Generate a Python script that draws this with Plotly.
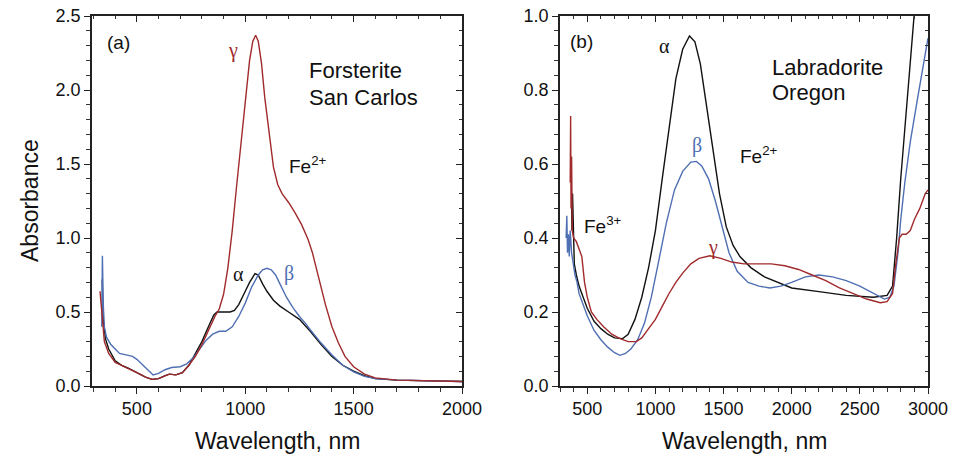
import plotly.graph_objects as go

# ---------- Panel (a): Forsterite San Carlos ----------
a_gamma_wl = [330, 340, 350, 370, 400, 430, 460, 500, 540, 570, 600, 630, 650, 680, 710, 740, 770, 800, 830, 860,
              880, 900, 920, 940, 960, 980, 1000, 1020, 1035, 1048, 1060, 1075, 1090, 1110, 1130, 1150, 1170, 1200,
              1230, 1260, 1290, 1310, 1340, 1370, 1400, 1430, 1460, 1500, 1550, 1600, 1700, 1800, 2000]
a_gamma_abs = [0.64, 0.45, 0.30, 0.22, 0.16, 0.14, 0.12, 0.09, 0.06, 0.045, 0.05, 0.07, 0.08, 0.075, 0.09, 0.14, 0.20,
               0.28, 0.38, 0.47, 0.52, 0.62, 0.80, 1.05, 1.35, 1.65, 1.95, 2.20, 2.33, 2.37, 2.33, 2.18, 1.95, 1.70,
               1.48, 1.36, 1.30, 1.24, 1.17, 1.09, 0.99, 0.90, 0.72, 0.55, 0.40, 0.29, 0.20, 0.13, 0.08, 0.055, 0.04,
               0.035, 0.03]

a_alpha_wl = [340, 345, 355, 370, 400, 430, 460, 500, 540, 570, 600, 630, 650, 680, 710, 740, 770, 800, 830, 855,
              870, 900, 930, 950, 970, 1000, 1020, 1045, 1060, 1080, 1100, 1130, 1160, 1200, 1250, 1300, 1350, 1400,
              1450, 1500, 1550, 1600, 1700, 2000]
a_alpha_abs = [0.72, 0.45, 0.32, 0.25, 0.17, 0.14, 0.12, 0.09, 0.06, 0.045, 0.05, 0.07, 0.08, 0.075, 0.09, 0.14, 0.22,
               0.30, 0.40, 0.48, 0.50, 0.50, 0.50, 0.51, 0.55, 0.64, 0.70, 0.76, 0.75, 0.69, 0.64, 0.58, 0.54, 0.50,
               0.45, 0.37, 0.28, 0.20, 0.14, 0.10, 0.07, 0.05, 0.04, 0.03]

a_beta_wl = [338, 341, 345, 350, 360, 380, 400, 420, 450, 480, 500, 520, 550, 575, 600, 630, 660, 700, 730, 760, 790,
             820, 850, 880, 910, 940, 970, 1000, 1030, 1060, 1080, 1100, 1120, 1140, 1160, 1190, 1220, 1250, 1280,
             1300, 1350, 1400, 1450, 1500, 1550, 1600, 1700, 2000]
a_beta_abs = [0.40, 0.88, 0.55, 0.40, 0.33, 0.28, 0.25, 0.22, 0.21, 0.20, 0.18, 0.15, 0.11, 0.075, 0.085, 0.11, 0.125,
              0.13, 0.15, 0.19, 0.25, 0.31, 0.35, 0.37, 0.37, 0.40, 0.47, 0.56, 0.67, 0.75, 0.785, 0.795, 0.785, 0.75,
              0.69, 0.60, 0.53, 0.47, 0.42, 0.38, 0.29, 0.21, 0.14, 0.095, 0.065, 0.05, 0.04, 0.03]

# ---------- Panel (b): Labradorite Oregon ----------
b_alpha_wl = [385, 388, 392, 398, 405, 420, 440, 470, 500, 550, 600, 650, 700, 760, 800, 850, 900, 950, 1000, 1050,
              1100, 1150, 1200, 1250, 1290, 1330, 1370, 1420, 1470, 1520, 1570, 1620, 1700, 1800, 1900, 2000, 2200,
              2400, 2600, 2700, 2740, 2770, 2800, 2840, 2880, 2900, 2920]
b_alpha_abs = [0.50, 0.42, 0.52, 0.40, 0.33, 0.30, 0.27, 0.24, 0.21, 0.175, 0.155, 0.14, 0.13, 0.128, 0.14, 0.18,
               0.24, 0.32, 0.42, 0.56, 0.70, 0.83, 0.91, 0.946, 0.93, 0.87, 0.77, 0.64, 0.52, 0.43, 0.38, 0.35, 0.32,
               0.295, 0.28, 0.265, 0.255, 0.245, 0.24, 0.245, 0.27, 0.40, 0.56, 0.75, 0.92, 1.02, 1.10]

b_beta_wl = [345, 350, 355, 362, 368, 375, 385, 395, 410, 425, 440, 460, 500, 550, 600, 650, 700, 740, 780, 820, 870,
             920, 970, 1020, 1080, 1140, 1200, 1260, 1300, 1340, 1390, 1440, 1490, 1540, 1600, 1680, 1760, 1840,
             1920, 2000, 2100, 2200, 2300, 2400, 2500, 2600, 2680, 2720, 2750, 2780, 2800, 2830, 2870, 2920, 2960,
             3000]
b_beta_abs = [0.40, 0.46, 0.36, 0.41, 0.35, 0.42, 0.36, 0.33, 0.30, 0.28, 0.25, 0.23, 0.19, 0.15, 0.125, 0.105, 0.09,
              0.083, 0.088, 0.10, 0.125, 0.17, 0.24, 0.33, 0.44, 0.53, 0.58, 0.605, 0.607, 0.595, 0.56, 0.50, 0.43,
              0.36, 0.31, 0.28, 0.27, 0.265, 0.27, 0.28, 0.295, 0.30, 0.295, 0.285, 0.27, 0.25, 0.235, 0.24, 0.27,
              0.36, 0.45, 0.55, 0.66, 0.77, 0.86, 0.94]

b_gamma_wl = [375, 378, 381, 385, 390, 400, 420, 440, 460, 480, 500, 530, 570, 620, 680, 740, 800, 860, 900, 950, 1000,
              1050, 1100, 1150, 1200, 1260, 1320, 1400, 1480, 1560, 1650, 1750, 1850, 1950, 2050, 2150, 2250, 2350,
              2450, 2550, 2650, 2700, 2740, 2760, 2790, 2810, 2840, 2870, 2900, 2940, 2980, 3000]
b_gamma_abs = [0.55, 0.73, 0.48, 0.62, 0.42, 0.40, 0.39, 0.37, 0.35, 0.28, 0.24, 0.20, 0.18, 0.16, 0.14, 0.128, 0.12,
               0.12, 0.13, 0.155, 0.18, 0.215, 0.25, 0.28, 0.305, 0.33, 0.345, 0.352, 0.345, 0.335, 0.33, 0.33, 0.33,
               0.325, 0.315, 0.30, 0.285, 0.265, 0.25, 0.235, 0.225, 0.228, 0.25, 0.32, 0.40, 0.41, 0.41, 0.42, 0.45,
               0.48, 0.52, 0.53]

# tick spacing (major / minor)
a_x_major, a_x_minor = 500, 100
a_y_major, a_y_minor = 0.5, 0.1
b_x_major, b_x_minor = 500, 100
b_y_major, b_y_minor = 0.2, 0.04

RED = "#a02a2c"
BLUE = "#4f6fb3"
BLACK = "#111111"
FONT = "Liberation Sans, Arial, sans-serif"
SERIF = "Liberation Serif, Times New Roman, serif"

fig = go.Figure()
lw = 1.4
fig.add_trace(go.Scatter(x=a_alpha_wl, y=a_alpha_abs, mode="lines", line=dict(color=BLACK, width=lw), xaxis="x", yaxis="y"))
fig.add_trace(go.Scatter(x=a_beta_wl, y=a_beta_abs, mode="lines", line=dict(color=BLUE, width=lw), xaxis="x", yaxis="y"))
fig.add_trace(go.Scatter(x=a_gamma_wl, y=a_gamma_abs, mode="lines", line=dict(color=RED, width=lw), xaxis="x", yaxis="y"))
fig.add_trace(go.Scatter(x=b_alpha_wl, y=b_alpha_abs, mode="lines", line=dict(color=BLACK, width=lw), xaxis="x2", yaxis="y2"))
fig.add_trace(go.Scatter(x=b_beta_wl, y=b_beta_abs, mode="lines", line=dict(color=BLUE, width=lw), xaxis="x2", yaxis="y2"))
fig.add_trace(go.Scatter(x=b_gamma_wl, y=b_gamma_abs, mode="lines", line=dict(color=RED, width=lw), xaxis="x2", yaxis="y2"))
# dummy traces so that the mirrored (inside-tick) axes are drawn
fig.add_trace(go.Scatter(x=[None], y=[None], xaxis="x3", yaxis="y3", showlegend=False, hoverinfo="skip"))
fig.add_trace(go.Scatter(x=[None], y=[None], xaxis="x4", yaxis="y4", showlegend=False, hoverinfo="skip"))

W, H = 955, 468
xa_dom = [92 / W, 462 / W]
xb_dom = [560 / W, 928 / W]
y_dom = [1 - 386 / H, 1 - 16 / H]
a_xr = [293, 2000]
a_yr = [0, 2.5]
b_xr = [300, 3000]
b_yr = [0, 1.0]

tickfont = dict(family=FONT, size=18, color="#111")
axcommon = dict(showgrid=False, zeroline=False, showline=True, linecolor="#222", linewidth=1.6, automargin=False,
                ticks="outside", ticklen=6, tickwidth=1.2, tickcolor="#222", tickfont=tickfont, tickmode="linear")
inner = dict(showgrid=False, zeroline=False, showline=False, ticks="inside", ticklen=6, tickwidth=1.2,
             automargin=False, tickcolor="#222", showticklabels=False, tickmode="linear")


def minor(d, direction, length=4):
    return dict(dtick=d, tick0=0, ticks=direction, ticklen=length, tickwidth=1, tickcolor="#333")


fig.update_layout(
    width=W, height=H, margin=dict(l=0, r=0, t=0, b=0, pad=0, autoexpand=False),
    paper_bgcolor="white", plot_bgcolor="white", showlegend=False,
    xaxis=dict(domain=xa_dom, anchor="y", range=a_xr, tick0=0, dtick=a_x_major, mirror=True,
               minor=minor(a_x_minor, "outside"), **axcommon),
    yaxis=dict(domain=y_dom, anchor="x", range=a_yr, tick0=0, dtick=a_y_major, tickformat=".1f", mirror=True,
               minor=minor(a_y_minor, "outside"), **axcommon),
    xaxis2=dict(domain=xb_dom, anchor="y2", range=b_xr, tick0=0, dtick=b_x_major, mirror=True,
                minor=minor(b_x_minor, "outside"), **axcommon),
    yaxis2=dict(domain=y_dom, anchor="x2", range=b_yr, tick0=0, dtick=b_y_major, tickformat=".1f", mirror=True,
                minor=minor(b_y_minor, "outside"), **axcommon),
    xaxis3=dict(overlaying="x", side="top", anchor="y", range=a_xr, tick0=0, dtick=a_x_major,
                minor=minor(a_x_minor, "inside", 3), **inner),
    yaxis3=dict(overlaying="y", side="right", anchor="x", range=a_yr, tick0=0, dtick=a_y_major,
                minor=minor(a_y_minor, "inside", 3), **inner),
    xaxis4=dict(overlaying="x2", side="top", anchor="y2", range=b_xr, tick0=0, dtick=b_x_major,
                minor=minor(b_x_minor, "inside", 3), **inner),
    yaxis4=dict(overlaying="y2", side="right", anchor="x2", range=b_yr, tick0=0, dtick=b_y_major,
                minor=minor(b_y_minor, "inside", 3), **inner),
)


def ann(text, x, y, xref, yref, color="#111", size=19, family=FONT, xanchor="center", angle=0):
    fig.add_annotation(text=text, x=x, y=y, xref=xref, yref=yref, showarrow=False, textangle=angle,
                       font=dict(family=family, size=size, color=color), xanchor=xanchor, yanchor="middle")


# axis titles
ann("Absorbance", 30 / W, 1 - 201 / H, "paper", "paper", size=23, angle=-90)
ann("Wavelength, nm", (92 + 462) / 2 / W, 1 - 441 / H, "paper", "paper", size=23)
ann("Wavelength, nm", (560 + 928) / 2 / W, 1 - 441 / H, "paper", "paper", size=23)

# panel (a) labels
ann("(a)", 413, 2.32, "x", "y", size=19)
ann("γ", 944, 2.27, "x", "y", color=RED, family=SERIF, size=20)
ann("α", 967, 0.76, "x", "y", color=BLACK, family=SERIF, size=20)
ann("β", 1202, 0.76, "x", "y", color=BLUE, family=SERIF, size=20)
ann("Fe<sup>2+</sup>", 1193, 1.49, "x", "y", size=19, xanchor="left")
ann("Forsterite", 1283, 2.135, "x", "y", size=22, xanchor="left")
ann("San Carlos", 1283, 1.95, "x", "y", size=22, xanchor="left")

# panel (b) labels
ann("(b)", 461, 0.93, "x2", "y2", size=19)
ann("α", 1070, 0.92, "x2", "y2", color=BLACK, family=SERIF, size=20)
ann("β", 1305, 0.65, "x2", "y2", color=BLUE, family=SERIF, size=20)
ann("Fe<sup>2+</sup>", 1606, 0.625, "x2", "y2", size=19, xanchor="left")
ann("γ", 1422, 0.375, "x2", "y2", color=RED, family=SERIF, size=20)
ann("Fe<sup>3+</sup>", 461, 0.435, "x2", "y2", size=19, xanchor="left")
ann("Labradorite", 1841, 0.862, "x2", "y2", size=22, xanchor="left")
ann("Oregon", 1841, 0.792, "x2", "y2", size=22, xanchor="left")

fig.write_html("out.html", config={"displayModeBar": False},
               post_script="document.body.style.margin='0';document.body.style.overflow='hidden';")
